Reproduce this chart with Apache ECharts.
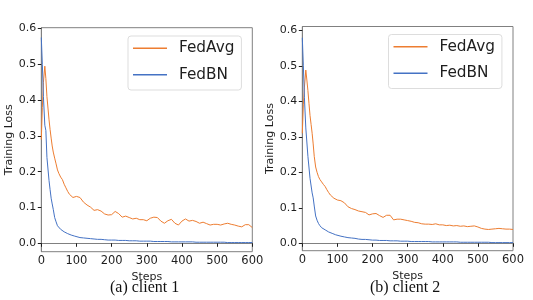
<!DOCTYPE html>
<html>
<head>
<meta charset="utf-8">
<script src="https://cdn.jsdelivr.net/npm/echarts@6/dist/echarts.min.js"></script>
<style>html,body{margin:0;padding:0;background:#fff;}#c{width:533px;height:300px;}</style>
</head>
<body>
<div id="c"></div>
<script>
const steps = [0,3,6,10,13,16,19,22,25,28,31,34,38,42,46,50,55,60,65,70,75,80,85,90,95,
  100,110,120,130,140,150,160,170,180,190,200,
  210,220,230,240,250,260,270,280,290,300,310,320,330,340,350,360,370,380,390,400,
  410,420,430,440,450,460,470,480,490,500,510,520,530,540,550,560,570,580,590,600];

const client1FedAvg = [0.29,0.38,0.45,0.495,0.46,0.41,0.378,0.345,0.318,0.294,0.272,0.255,0.238,0.222,0.205,0.195,0.185,0.178,0.165,0.155,0.145,0.137,0.133,0.128,0.128,
  0.131,0.128,0.115,0.107,0.101,0.092,0.094,0.09,0.082,0.079,0.08,
  0.089,0.083,0.073,0.076,0.072,0.068,0.07,0.066,0.066,0.063,0.07,0.073,0.072,0.062,0.056,0.063,0.067,0.056,0.051,0.062,
  0.068,0.062,0.064,0.061,0.056,0.059,0.055,0.051,0.053,0.053,0.051,0.054,0.056,0.053,0.051,0.048,0.046,0.052,0.052,0.044];

const client1FedBN = [0.575,0.5,0.41,0.33,0.315,0.24,0.235,0.175,0.15,0.126,0.11,0.095,0.072,0.06,0.049,0.044,0.039,0.035,0.032,0.029,0.027,0.025,0.023,0.021,0.02,
  0.018,0.016,0.015,0.014,0.013,0.012,0.011,0.011,0.01,0.009,0.009,
  0.009,0.008,0.008,0.008,0.007,0.007,0.007,0.006,0.006,0.006,0.006,0.005,0.005,0.005,0.005,0.005,0.004,0.004,0.004,0.004,
  0.004,0.004,0.004,0.003,0.003,0.003,0.003,0.003,0.003,0.003,0.003,0.003,0.002,0.002,0.002,0.002,0.002,0.002,0.002,0.002];

const client2FedAvg = [0.31,0.39,0.44,0.488,0.46,0.43,0.394,0.36,0.335,0.31,0.28,0.245,0.215,0.2,0.188,0.18,0.173,0.166,0.16,0.151,0.143,0.136,0.132,0.127,0.124,
  0.122,0.12,0.114,0.103,0.098,0.095,0.091,0.089,0.087,0.08,0.083,
  0.084,0.078,0.073,0.079,0.079,0.066,0.068,0.068,0.066,0.064,0.062,0.059,0.058,0.055,0.054,0.054,0.053,0.055,0.052,0.052,
  0.05,0.051,0.049,0.05,0.048,0.049,0.047,0.048,0.049,0.046,0.042,0.04,0.039,0.04,0.041,0.042,0.041,0.04,0.04,0.039];

const client2FedBN = [0.579,0.5,0.41,0.325,0.32,0.245,0.24,0.183,0.18,0.142,0.128,0.105,0.077,0.065,0.056,0.05,0.044,0.041,0.038,0.035,0.032,0.03,0.028,0.026,0.024,
  0.023,0.02,0.018,0.016,0.015,0.014,0.012,0.011,0.011,0.01,0.009,
  0.009,0.008,0.008,0.008,0.007,0.007,0.007,0.006,0.006,0.006,0.005,0.005,0.005,0.005,0.005,0.005,0.004,0.004,0.004,0.004,
  0.004,0.004,0.004,0.004,0.003,0.003,0.003,0.003,0.003,0.003,0.003,0.003,0.003,0.002,0.002,0.002,0.002,0.002,0.002,0.002];

const xTicks = [0,100,200,300,400,500,600];
const yTicks = [0,0.1,0.2,0.3,0.4,0.5,0.6];
const seriesNames = ['FedAvg','FedBN'];
const captions = ['(a) client 1','(b) client 2'];

const ORANGE = '#ED7D31', BLUE = '#4472C4';
const labelColor = '#1e1e1e';
const spine = '#808080';
const font = 'DejaVu Sans';

const grids = [
  {left: 41.3, top: 27.7, width: 211, height: 224, ymin: -0.0235, ymax: 0.6025},
  {left: 302.3, top: 26.5, width: 210.7, height: 224.2, ymin: -0.0208, ymax: 0.6107}
];

function pair(xs, ys){ return xs.map((x,i)=>[x, ys[i]]); }

const option = {
  animation: false,
  backgroundColor: '#fff',
  grid: grids.map(g => ({left: g.left, top: g.top, width: g.width, height: g.height, show: true, borderColor: spine, borderWidth: 1, backgroundColor: 'transparent'})),
  xAxis: grids.map((g,i) => ({
    type: 'value', gridIndex: i, min: 0, max: 600, interval: 100,
    name: 'Steps', nameLocation: 'middle', nameGap: 10.5,
    nameTextStyle: {fontFamily: font, fontSize: 11, color: labelColor},
    axisLine: {show: true, lineStyle: {color: spine, width: 1}},
    axisTick: {show: true, length: 3.5, lineStyle: {color: labelColor}, customValues: xTicks},
    axisLabel: {fontFamily: font, fontSize: 11.5, color: labelColor, margin: 3.5, customValues: xTicks},
    splitLine: {show: false}
  })),
  yAxis: grids.map((g,i) => ({
    type: 'value', gridIndex: i, min: g.ymin, max: g.ymax,
    name: 'Training Loss', nameLocation: 'middle', nameGap: 22, nameRotate: 90,
    nameTextStyle: {fontFamily: font, fontSize: 11, color: labelColor},
    axisLine: {show: true, lineStyle: {color: spine, width: 1}},
    axisTick: {show: true, length: 3.5, lineStyle: {color: labelColor}, customValues: yTicks},
    axisLabel: {fontFamily: font, fontSize: 11, color: labelColor, margin: 5, customValues: yTicks,
      formatter: v => v.toFixed(1)},
    splitLine: {show: false}
  })),
  legend: grids.map((g,i) => ({
    orient: 'vertical',
    left: i === 0 ? 128 : 388.5, top: i === 0 ? 36 : 34.5,
    data: seriesNames,
    icon: 'rect',
    itemWidth: 34, itemHeight: 1.4, itemGap: 10,
    padding: [4, 7, 7, 5],
    backgroundColor: 'rgba(255,255,255,0.8)',
    borderColor: '#dddddd', borderWidth: 1, borderRadius: 3,
    textStyle: {fontFamily: font, fontSize: 15.3, color: labelColor, padding: [0,0,0,7], lineHeight: 16.5}
  })),
  graphic: captions.map((t,i) => ({
    type: 'text', left: i === 0 ? 110 : 370, top: 280,
    style: {text: t, font: '16px "Liberation Serif", "DejaVu Serif", serif', fill: '#111'}
  })),
  series: [
    {name: 'FedAvg', type: 'line', xAxisIndex: 0, yAxisIndex: 0, data: pair(steps, client1FedAvg)},
    {name: 'FedBN', type: 'line', xAxisIndex: 0, yAxisIndex: 0, data: pair(steps, client1FedBN)},
    {name: 'FedAvg', type: 'line', xAxisIndex: 1, yAxisIndex: 1, data: pair(steps, client2FedAvg)},
    {name: 'FedBN', type: 'line', xAxisIndex: 1, yAxisIndex: 1, data: pair(steps, client2FedBN)}
  ].map(s => Object.assign(s, {
    symbol: 'none', showSymbol: false,
    lineStyle: {width: 1, color: s.name === 'FedAvg' ? ORANGE : BLUE},
    itemStyle: {color: s.name === 'FedAvg' ? ORANGE : BLUE},
    z: s.name === 'FedAvg' ? 2 : 3
  }))
};

const chart = echarts.init(document.getElementById('c'), null, {renderer: 'canvas'});
chart.setOption(option);
</script>
</body>
</html>
